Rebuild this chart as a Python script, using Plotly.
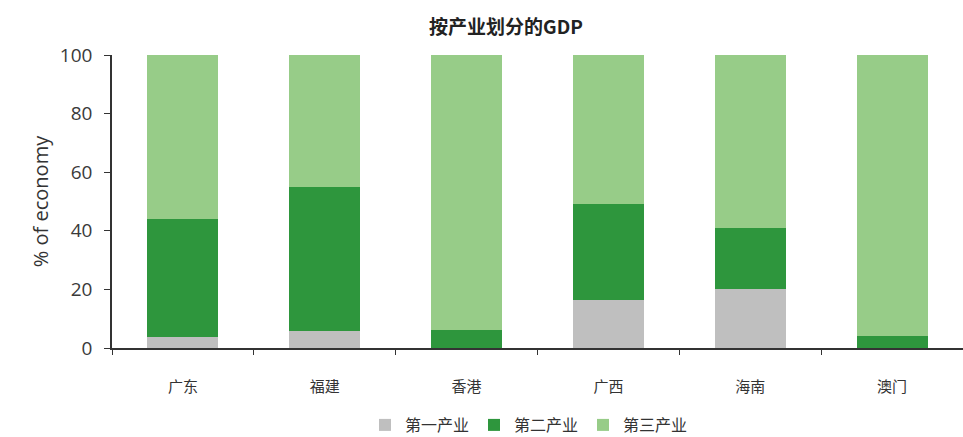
import plotly.graph_objects as go

regions = ["广东", "福建", "香港", "广西", "海南", "澳门"]
primary = [3.8, 5.8, 0.1, 16.4, 20.1, 0.0]
secondary = [40.2, 49.2, 6.0, 32.6, 20.9, 4.1]
tertiary = [round(100 - p - s, 1) for p, s in zip(primary, secondary)]

series_names = ["第一产业", "第二产业", "第三产业"]
series_colors = ["#BFBFBF", "#2E963D", "#97CC88"]
series_values = [primary, secondary, tertiary]

fig = go.Figure()
for name, color, vals in zip(series_names, series_colors, series_values):
    fig.add_trace(go.Bar(x=regions, y=vals, name=name, marker_color=color,
                         marker_line_width=0))

fig.update_layout(
    barmode="stack",
    bargap=0.5,
    width=963, height=437,
    margin=dict(l=112, r=0, t=55, b=89, autoexpand=False),
    plot_bgcolor="white", paper_bgcolor="white",
    font=dict(family="Open Sans, Noto Sans CJK SC", color="#333333"),
    title=dict(text="<b>按产业划分的GDP</b>", x=0.463, xref="paper", xanchor="center",
               y=1 - 27 / 437, yref="container", yanchor="middle",
               font=dict(size=19, color="#222222", family="Noto Sans CJK SC")),
    legend=dict(orientation="h", x=0.49, xanchor="center",
                yref="container", y=12 / 437, yanchor="middle",
                font=dict(size=16, family="Noto Sans CJK SC", color="#333333"),
                itemwidth=30, traceorder="normal"),
    showlegend=True,
)
fig.update_xaxes(showline=True, linecolor="#333333", linewidth=1.5,
                 ticks="outside", tickson="boundaries", ticklen=5, tickcolor="#333333",
                 tickfont=dict(size=15, family="Noto Sans CJK SC", color="#333333"),
                 ticklabelstandoff=24, showgrid=False)
fig.update_yaxes(range=[0, 100], dtick=20, showline=True, linecolor="#333333", linewidth=1.5,
                 ticks="outside", ticklen=6, tickcolor="#333333", showgrid=False,
                 tickfont=dict(size=19, color="#3a3a3a"), ticklabelstandoff=8,
                 title=dict(text="% of economy", font=dict(size=20, color="#333333"), standoff=6),
                 zeroline=False)

fig.write_html("out.html")
